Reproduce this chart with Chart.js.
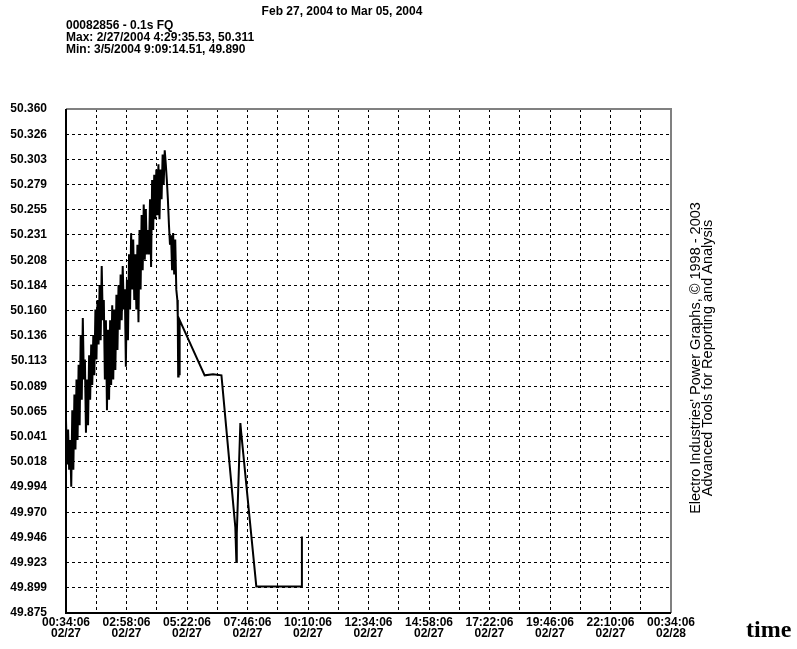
<!DOCTYPE html>
<html>
<head>
<meta charset="utf-8">
<script src="https://cdn.jsdelivr.net/npm/chart.js@4.4.0/dist/chart.umd.min.js"></script>
<style>
  html, body { margin: 0; padding: 0; background: #fff; }
</style>
</head>
<body>
<canvas id="myChart" width="797" height="649"></canvas>
<script>
// minutes after 00:34:06 on 02/27
const minutes = [
  0, 2.5, 5, 7.5, 10, 12.5, 15, 17.5, 20, 22.5,
  25, 27.5, 30, 32.5, 35, 37.5, 40, 42.5, 45, 47.5,
  50, 52.5, 55, 57.5, 60, 62.5, 65, 67.5, 70, 72.5,
  75, 77.5, 80, 82.5, 85, 87.5, 90, 92.5, 95, 97.5,
  100, 102.5, 105, 107.5, 110, 112.5, 115, 117.5, 120, 122.5,
  125, 127.5, 130, 132.5, 135, 137.5, 140, 142.5, 145, 147.5,
  150, 152.5, 155, 157.5, 160, 162.5, 165, 167.5, 170, 172.5,
  175, 177.5, 180, 182.5, 185, 187.5, 190, 192.5, 195, 197.5,
  200, 202.5, 205, 207.5, 210, 212.5, 215, 217.5, 220, 222.5,
  225, 227.5, 230, 232.5, 235, 237.5, 240, 242.5, 245, 247.5,
  250, 252.5, 255, 257.5, 260, 262.5,
  265, 266, 267, 268, 269, 270.5, 330, 350, 370, 403,
  405.5, 406.5, 415, 417, 453, 480, 510, 540, 561, 561.5
];

// 0.1s frequency (Hz)
const freq = [
  50.057, 50.015, 50.048, 50.010, 50.038, 49.994, 50.066, 50.010, 50.081, 50.029,
  50.095, 50.038, 50.109, 50.052, 50.137, 50.076, 50.153, 50.095, 50.114, 50.045,
  50.095, 50.052, 50.118, 50.076, 50.128, 50.090, 50.137, 50.099, 50.161, 50.114,
  50.170, 50.128, 50.184, 50.132, 50.202, 50.151, 50.170, 50.095, 50.151, 50.066,
  50.142, 50.076, 50.151, 50.090, 50.165, 50.095, 50.161, 50.104, 50.175, 50.123,
  50.184, 50.142, 50.194, 50.151, 50.202, 50.161, 50.180, 50.107, 50.189, 50.132,
  50.213, 50.161, 50.233, 50.180, 50.227, 50.170, 50.213, 50.161, 50.222, 50.149,
  50.236, 50.180, 50.250, 50.198, 50.260, 50.208, 50.255, 50.213, 50.236, 50.213,
  50.265, 50.201, 50.283, 50.236, 50.288, 50.246, 50.293, 50.250, 50.298, 50.246,
  50.293, 50.265, 50.307, 50.279, 50.311, 50.298, 50.283, 50.265, 50.241, 50.222,
  50.231, 50.198, 50.233, 50.194, 50.227, 50.180,
  50.170, 50.154, 50.098, 50.151, 50.100, 50.151, 50.099, 50.100, 50.099, 49.956,
  49.923, 49.950, 50.054, 50.045, 49.900, 49.900, 49.900, 49.900, 49.900, 49.947
];

const xTickLabels = [
  ['00:34:06', '02/27'], ['02:58:06', '02/27'], ['05:22:06', '02/27'],
  ['07:46:06', '02/27'], ['10:10:06', '02/27'], ['12:34:06', '02/27'],
  ['14:58:06', '02/27'], ['17:22:06', '02/27'], ['19:46:06', '02/27'],
  ['22:10:06', '02/27'], ['00:34:06', '02/28']
];

const yTickLabels = [
  '49.875', '49.899', '49.923', '49.946', '49.970', '49.994', '50.018',
  '50.041', '50.065', '50.089', '50.113', '50.136', '50.160', '50.184',
  '50.208', '50.231', '50.255', '50.279', '50.303', '50.326', '50.360'
];

const yMin = 49.875;
const yMax = 50.35;
const xMax = 1440; // one day
const xGridStep = 72;

const titleText = 'Feb 27, 2004 to Mar 05, 2004';
const infoLines = [
  '00082856 - 0.1s FQ',
  'Max: 2/27/2004 4:29:35.53, 50.311',
  'Min: 3/5/2004 9:09:14.51, 49.890'
];
const creditLines = [
  "Electro Industries' Power Graphs, \u00A9 1998 - 2003",
  'Advanced Tools for Reporting and Analysis'
];

const boldFont = 'bold 12px "Liberation Sans", Arial, sans-serif';

const textPlugin = {
  id: 'texts',
  beforeDatasetsDraw(chart) {
    const { ctx, chartArea: a } = chart;
    ctx.save();
    ctx.lineWidth = 2;
    ctx.strokeStyle = '#808080';
    ctx.beginPath();
    ctx.moveTo(a.left, a.top);
    ctx.lineTo(a.right, a.top);
    ctx.lineTo(a.right, a.bottom);
    ctx.stroke();
    ctx.strokeStyle = '#000';
    ctx.beginPath();
    ctx.moveTo(a.left, a.top);
    ctx.lineTo(a.left, a.bottom);
    ctx.lineTo(a.right, a.bottom);
    ctx.stroke();
    ctx.restore();
  },
  afterDraw(chart) {
    const ctx = chart.ctx;
    ctx.save();
    ctx.fillStyle = '#000';
    ctx.font = boldFont;
    ctx.textBaseline = 'middle';
    ctx.textAlign = 'center';
    ctx.fillText(titleText, 342, 12);
    ctx.textAlign = 'left';
    infoLines.forEach((line, i) => ctx.fillText(line, 66, 26 + i * 12));

    ctx.font = '14.5px "Liberation Sans", Arial, sans-serif';
    ctx.textAlign = 'center';
    creditLines.forEach((line, i) => {
      ctx.save();
      ctx.translate(696 + i * 12, 358);
      ctx.rotate(-Math.PI / 2);
      ctx.fillText(line, 0, 0);
      ctx.restore();
    });

    ctx.font = 'bold 24px "Liberation Serif", "Times New Roman", serif';
    ctx.textAlign = 'left';
    ctx.textBaseline = 'alphabetic';
    ctx.fillText('time', 746, 637);
    ctx.restore();
  }
};

const context = document.getElementById('myChart').getContext('2d');

const chart = new Chart(context, {
  type: 'line',
  data: {
    datasets: [
      {
        data: minutes.map((m, i) => ({ x: m, y: freq[i] })),
        borderColor: '#000',
        borderWidth: 2,
        pointRadius: 0,
        tension: 0,
        fill: false,
      },
    ],
  },
  options: {
    responsive: false,
    animation: false,
    devicePixelRatio: 1,
    layout: { padding: { left: 0, right: 126, top: 109, bottom: 0 } },
    plugins: {
      legend: { display: false },
      tooltip: { enabled: false },
    },
    scales: {
      x: {
        type: 'linear',
        min: 0,
        max: xMax,
        afterBuildTicks: (axis) => {
          const ticks = [];
          for (let v = 0; v <= xMax; v += xGridStep) ticks.push({ value: v });
          axis.ticks = ticks;
        },
        afterFit: (axis) => { axis.height = 36; },
        grid: { color: '#000', lineWidth: 1, drawTicks: false },
        border: { display: false, dash: [3, 3] },
        ticks: {
          autoSkip: false,
          maxRotation: 0,
          minRotation: 0,
          padding: 4,
          color: '#000',
          font: { family: '"Liberation Sans", Arial, sans-serif', size: 12, weight: 'bold', lineHeight: '11px' },
          callback: (v, i) => (i % 2 === 0 ? xTickLabels[i / 2] : ''),
        },
      },
      y: {
        type: 'linear',
        min: yMin,
        max: yMax,
        afterBuildTicks: (axis) => {
          const step = (yMax - yMin) / (yTickLabels.length - 1);
          axis.ticks = yTickLabels.map((l, i) => ({ value: yMin + i * step }));
        },
        afterFit: (axis) => { axis.width = 66; },
        grid: { color: '#000', lineWidth: 1, drawTicks: false },
        border: { display: false, dash: [3, 3] },
        ticks: {
          padding: 19,
          color: '#000',
          font: { family: '"Liberation Sans", Arial, sans-serif', size: 12, weight: 'bold' },
          callback: (v, i) => yTickLabels[i],
        },
      },
    },
  },
  plugins: [textPlugin],
});
</script>
</body>
</html>
